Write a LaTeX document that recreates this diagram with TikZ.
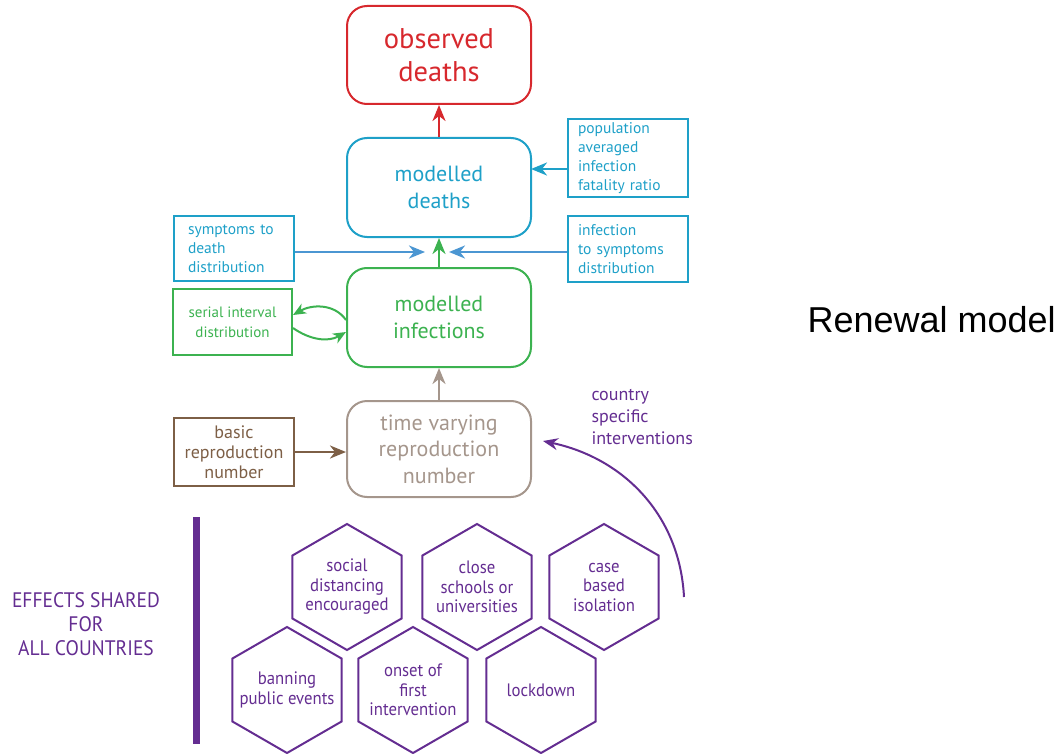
\documentclass[tikz,border=0pt]{standalone}
\usepackage{fontspec}
\setmainfont{PT Sans}
\newfontfamily\condfont[FakeStretch=0.93]{PT Sans}
\newfontfamily\arialfont{Liberation Sans}
\usetikzlibrary{arrows.meta,shapes.geometric}

\definecolor{obsred}{RGB}{215,40,45}
\definecolor{deathblue}{RGB}{30,160,200}
\definecolor{arrowblue}{RGB}{75,150,210}
\definecolor{infgreen}{RGB}{60,178,80}
\definecolor{rtgrey}{RGB}{165,150,140}
\definecolor{rzerobrown}{RGB}{125,95,70}
\definecolor{npipurple}{RGB}{100,45,145}

\tikzset{
	bigbox/.style={draw, line width=2pt, rounded corners=20pt, minimum width=184pt, minimum height=98pt, align=center, font=\fontsize{22}{26.5}\selectfont},
	sidebox/.style={draw, line width=2pt, minimum width=120pt, minimum height=66pt, font=\fontsize{15.5}{19}\selectfont},
	leftbox/.style={sidebox, align=left, text width=100pt, inner xsep=10pt},
	hexbox/.style={draw=npipurple, line width=2pt, regular polygon, regular polygon sides=6, shape border rotate=30, minimum size=126pt, inner sep=0pt},
	hextext/.style={text=npipurple, align=center, inner sep=0pt, font=\condfont\fontsize{18}{19.5}\selectfont},
	arr/.style={line width=2.5pt, -{Stealth[length=16pt,width=13pt,inset=5pt]}},
	looparr/.style={line width=2pt, -{Stealth[length=13pt,width=11pt,inset=4pt]}}
}

\begin{document}
\begin{tikzpicture}[x=1pt,y=-1pt]
		\useasboundingbox (0,0) rectangle (1062,754);
		
		%%%%% MODEL CHAIN %%%%%
		\node[bigbox, draw=obsred, text=obsred, font=\fontsize{28.5}{33}\selectfont] (obsdeaths) at (439,55) {observed\\deaths};
		\node[bigbox, draw=deathblue, text=deathblue, minimum height=99pt] (moddeaths) at (439,187.5) {modelled\\deaths};
		\node[bigbox, draw=infgreen, text=infgreen, minimum height=99pt] (modinf) at (439,317.5) {modelled\\infections};
		\node[bigbox, draw=rtgrey, text=rtgrey, minimum height=96pt] (rt) at (439,449) {time varying\\reproduction\\number};
		
		%%%%% SIDE INPUTS %%%%%
		\node[leftbox, draw=deathblue, text=deathblue, minimum height=76pt] (ifr) at (628,158) {population\\averaged\\infection\\fatality ratio};
		\node[leftbox, draw=deathblue, text=deathblue, minimum height=65pt, text width=92pt, inner xsep=14pt] (symdeath) at (234,248.5) {symptoms to\\death\\distribution};
		\node[leftbox, draw=deathblue, text=deathblue] (infsym) at (628,249) {infection\\to symptoms\\distribution};
		\node[sidebox, draw=infgreen, text=infgreen, align=center, minimum width=119pt, font=\fontsize{15}{20}\selectfont] (serial) at (232.5,322) {serial interval\\distribution};
		\node[sidebox, draw=rzerobrown, text=rzerobrown, align=center, minimum height=68pt, font=\fontsize{18}{20}\selectfont] (rzero) at (234,452) {basic\\reproduction\\number};
		
		\coordinate (ifrin) at (531,169);
		\coordinate (symtip) at (425,252);
		\coordinate (inftip) at (449,252);
		
		\draw[arr, obsred] (moddeaths.north) -- (obsdeaths.south);
		\draw[arr, deathblue] (ifr.west |- ifrin) -- (ifrin);
		\draw[arr, arrowblue] (symdeath.east |- symtip) -- (symtip);
		\draw[arr, arrowblue] (infsym.west |- inftip) -- (inftip);
		\draw[arr, infgreen] (modinf.north) -- (moddeaths.south);
		\draw[arr, rtgrey] (rt.north) -- (modinf.south);
		\draw[arr, rzerobrown] (rzero.east) -- (rt.west |- rzero.east);
		
		% renewal loop
		\draw[looparr, infgreen] ([yshift=-2.5pt]modinf.west) to[out=125,in=30] ([yshift=7pt]serial.east);
		\draw[looparr, infgreen] ([yshift=-6pt]serial.east) to[out=-35,in=-150] ([yshift=-14.5pt]modinf.west);
		
		%%%%% INTERVENTIONS %%%%%
		\node[npipurple, anchor=west, align=left, font=\fontsize{18}{22}\selectfont] (country) at (588,417) {country\\specific\\interventions};
		\coordinate (npistart) at (684,597);
		\coordinate (npiend) at (543,441);
		\draw[npipurple, line width=2pt, -{Stealth[length=15pt,width=12pt,inset=5pt]}] (npistart) to[out=93,in=-12] (npiend);
		
		\node[hexbox, label={[hextext]center:social\\distancing\\encouraged}] (hexsocial) at (347,587) {};
		\node[hexbox, label={[hextext]center:close\\schools or\\universities}] (hexschools) at (477,587) {};
		\node[hexbox, label={[hextext]center:case\\based\\isolation}] (hexisolation) at (604,587) {};
		\node[hexbox, label={[hextext]center:banning\\public events}] (hexevents) at (287,690) {};
		\node[hexbox, label={[hextext]center:onset of\\first\\intervention}] (hexonset) at (413,690) {};
		\node[hexbox, label={[hextext]center:lockdown}] (hexlockdown) at (541,690) {};
		
		\draw[npipurple, line width=7pt] (196.5,517) -- (196.5,744);
		\node[npipurple, align=center, font=\condfont\fontsize{21}{24}\selectfont] (shared) at (86,624) {EFFECTS SHARED\\FOR\\ALL COUNTRIES};
		
		\node[anchor=west, font=\arialfont\fontsize{36}{40}\selectfont] (renewal) at (804,320) {Renewal model};
	\end{tikzpicture}
\end{document}
